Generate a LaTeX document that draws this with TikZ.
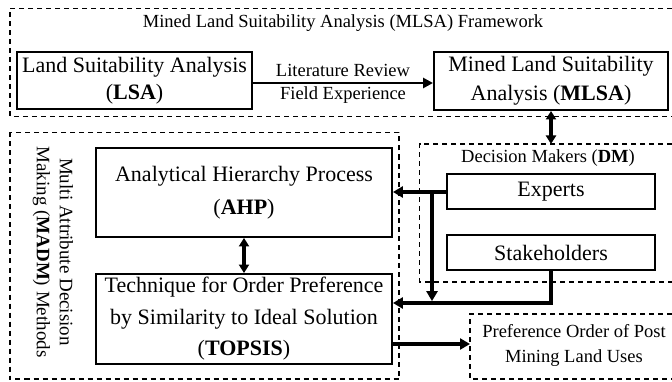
\documentclass[tikz,border=0pt]{standalone}
\usepackage{fontspec}
\setmainfont{Liberation Serif}
\usetikzlibrary{arrows.meta}
\begin{document}
\begin{tikzpicture}[x=1pt,y=-1pt,
  box/.style={draw, line width=1.9pt, align=center, inner sep=0pt},
  frame/.style={draw, line width=1.5pt, dash pattern=on 5pt off 4pt},
  lbl/.style={align=center, inner sep=0pt, font=\fontsize{18.5}{25}\selectfont},
  arr/.style={line width=3.8pt, -{Triangle[length=10pt,width=11pt]}},
  thinarr/.style={line width=2.6pt, -{Triangle[length=10pt,width=10pt]}},
  dbl/.style={line width=3.3pt, {Triangle[length=8.5pt,width=10pt]}-{Triangle[length=8.5pt,width=10pt]}}
]
\useasboundingbox (0,0) rectangle (672,382);

% frames
\draw[frame] (672,8.5) -- (10,8.5) -- (10,116.5) -- (672,116.5);
\draw[frame] (10,132.5) rectangle (399,379);
\draw[frame] (672,144) -- (419.5,144) -- (419.5,282) -- (672,282);
\draw[frame] (672,314) -- (470,314) -- (470,379) -- (672,379);

% frame labels
\node[lbl] (title) at (343,23) {Mined Land Suitability Analysis (MLSA) Framework};
\node[lbl] (dmlbl) at (548,158) {Decision Makers (\textbf{DM})};
\node[lbl] (pref) at (574,345.5) {Preference Order of Post\\Mining Land Uses};
\node[lbl, rotate=-90, font=\fontsize{19}{23}\selectfont] (madm) at (53,252) {Multi Attribute Decision\\Making (\textbf{MADM}) Methods};

% boxes
\node[box, font=\fontsize{22}{27}\selectfont, minimum width=235pt, minimum height=57pt] (lsa) at (134.5,80.5) {Land Suitability Analysis\\(\textbf{LSA})};
\node[box, font=\fontsize{22}{29}\selectfont, minimum width=234pt, minimum height=58pt] (mlsa) at (551,81) {Mined Land Suitability\\Analysis (\textbf{MLSA})};
\node[box, font=\fontsize{22}{33}\selectfont, minimum width=296pt, minimum height=89pt] (ahp) at (244,192.5) {Analytical Hierarchy Process\\(\textbf{AHP})};
\node[box, font=\fontsize{22}{31.5}\selectfont, minimum width=296pt, minimum height=90pt] (topsis) at (244,319) {Technique for Order Preference\\by Similarity to Ideal Solution\\(\textbf{TOPSIS})};
\node[box, font=\fontsize{22}{27}\selectfont, minimum width=208pt, minimum height=35pt] (exp) at (551,191.5) {Experts};
\node[box, font=\fontsize{22}{27}\selectfont, minimum width=208pt, minimum height=35pt] (stk) at (551,252.5) {Stakeholders};

% arrow labels
\node[lbl] (lit) at (343,70) {Literature Review};
\node[lbl] (field) at (343,95.5) {Field Experience};

% helper coordinates
\coordinate (arow) at (0,83);
\coordinate (dmtop) at (551,144);
\coordinate (br) at (432,192);
\coordinate (row) at (0,303);
\coordinate (outrow) at (0,344);
\coordinate (prefw) at (470,344);

% connectors
\draw[thinarr] (lsa.east |- arow) -- (mlsa.west |- arow);
\draw[dbl] (mlsa.south) -- (dmtop);
\draw[arr] (exp.west |- br) -- (ahp.east |- br);
\draw[arr, shorten >=1.9pt] (br) -- (br |- row);
\draw[arr] (stk.south) |- (topsis.east |- row);
\draw[dbl] (ahp.south) -- (topsis.north);
\draw[arr, line width=3.2pt] (topsis.east |- outrow) -- (prefw);
\end{tikzpicture}
\end{document}
